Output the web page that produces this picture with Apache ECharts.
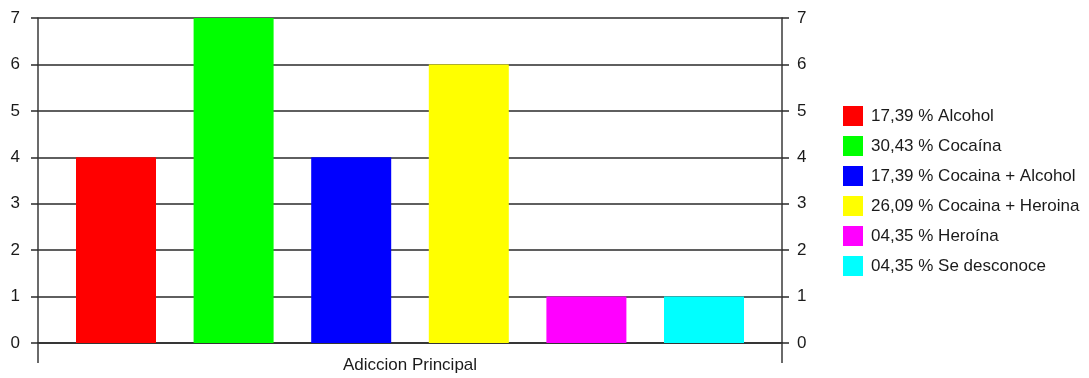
<!DOCTYPE html>
<html>
<head>
<meta charset="utf-8">
<script src="https://cdn.jsdelivr.net/npm/echarts@6/dist/echarts.min.js"></script>
<style>
html,body{margin:0;padding:0;background:#fff;}
#chart{width:1089px;height:378px;}
</style>
</head>
<body>
<div id="chart"></div>
<script>
const category = ['Adiccion Principal'];
const seriesNames = ['Alcohol', 'Cocaína', 'Cocaina + Alcohol', 'Cocaina + Heroina', 'Heroína', 'Se desconoce'];
const percentages = ['17,39', '30,43', '17,39', '26,09', '04,35', '04,35'];
const values = [4, 7, 4, 6, 1, 1];
const colors = ['#ff0000', '#00ff00', '#0000ff', '#ffff00', '#ff00ff', '#00ffff'];
const yTicks = [0, 1, 2, 3, 4, 5, 6, 7];

const font = 'Arial, "Liberation Sans", sans-serif';
const txt = '#1a1a1a';

const series = seriesNames.map((n, i) => ({
  name: percentages[i] + ' % ' + n,
  type: 'bar',
  data: [values[i]],
  barWidth: 80,
  barGap: '47%',
  itemStyle: { color: colors[i] },
  emphasis: { disabled: true }
}));

const yAxisBase = {
  type: 'value',
  min: yTicks[0],
  max: yTicks[yTicks.length - 1],
  interval: 1,
  axisLine: { show: true, lineStyle: { color: '#3a3a3a', width: 1.5 } },
  axisTick: { show: true, length: 7, lineStyle: { color: '#2a2a2a', width: 1.5 } },
  axisLabel: { color: txt, fontSize: 17, fontFamily: font }
};

const chart = echarts.init(document.getElementById('chart'), null, { renderer: 'canvas' });
chart.setOption({
  animation: false,
  color: colors,
  grid: { left: 38, right: 307, top: 18, bottom: 35, containLabel: false },
  legend: {
    orient: 'vertical',
    left: 838,
    top: 101,
    itemWidth: 20,
    itemHeight: 20,
    itemGap: 10,
    icon: 'rect',
    textStyle: { color: txt, fontSize: 17, fontFamily: font, padding: [0, 0, 0, 3] },
    data: series.map(s => s.name)
  },
  xAxis: {
    type: 'category',
    data: category,
    axisLine: { lineStyle: { color: '#2a2a2a', width: 1.5 } },
    axisTick: { show: true, length: 20, lineStyle: { color: '#3a3a3a', width: 1.5 } },
    axisLabel: { color: txt, fontSize: 17, fontFamily: font, margin: 14 }
  },
  yAxis: [
    Object.assign({}, yAxisBase, {
      position: 'left',
      axisLabel: Object.assign({}, yAxisBase.axisLabel, { margin: 18 }),
      splitLine: { show: true, lineStyle: { color: '#2a2a2a', width: 1.5 } }
    }),
    Object.assign({}, yAxisBase, {
      position: 'right',
      axisLabel: Object.assign({}, yAxisBase.axisLabel, { margin: 15 }),
      splitLine: { show: false }
    })
  ],
  series: series
});
</script>
</body>
</html>
